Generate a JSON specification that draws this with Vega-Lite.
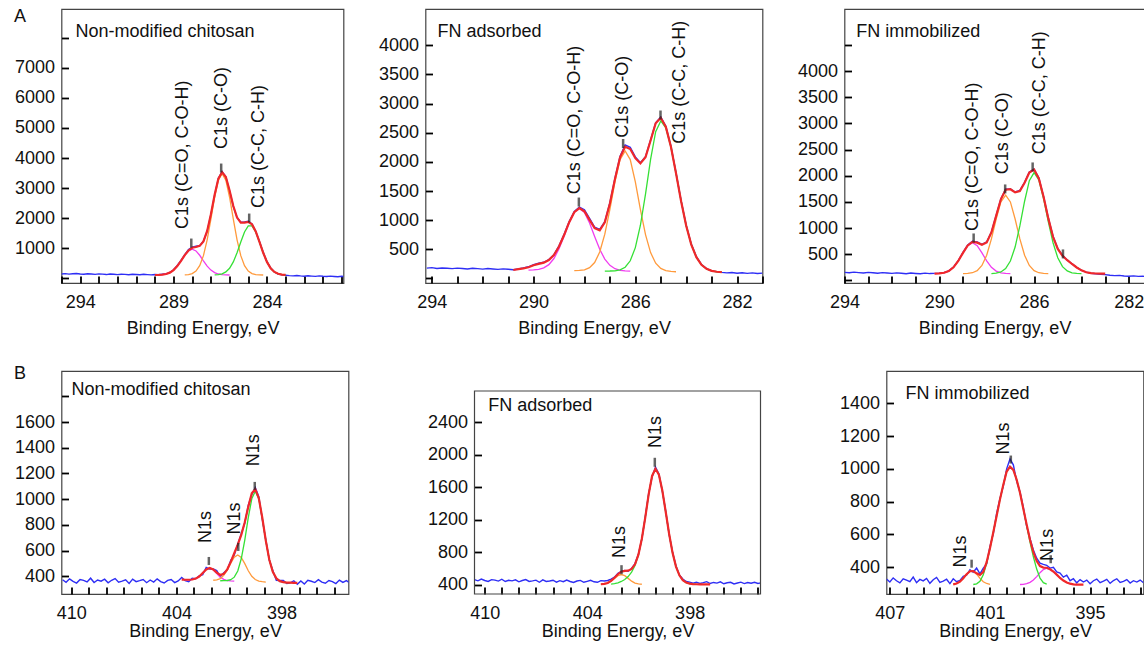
{
"$schema": "https://vega.github.io/schema/vega-lite/v6.json",
"autosize": {"type": "pad"},
"padding": {"left": 12.5, "top": 7, "right": 0, "bottom": 0},
"background": "white",
"datasets": {
"A1": [
{"x":295.0,"r":150},{"x":294.8,"r":160},{"x":294.6,"r":145},{"x":294.4,"r":155},{"x":294.2,"r":165},{"x":294.0,"r":150},{"x":293.8,"r":140},{"x":293.6,"r":158},{"x":293.4,"r":148},{"x":293.2,"r":135},{"x":293.0,"r":152},{"x":292.8,"r":145},{"x":292.6,"r":130},{"x":292.4,"r":148},{"x":292.2,"r":140},{"x":292.0,"r":128},{"x":291.8,"r":142},{"x":291.6,"r":135},{"x":291.4,"r":125},{"x":291.2,"r":140},{"x":291.0,"r":132},{"x":290.8,"r":122},{"x":290.6,"r":138},{"x":290.4,"r":128},{"x":290.2,"r":120,"g":115},
{"x":290.0,"r":130,"f":116,"a":116},{"x":289.8,"r":125,"f":119,"a":119},{"x":289.6,"r":140,"f":127,"a":127},{"x":289.4,"r":155,"f":149,"a":149},{"x":289.2,"r":200,"f":194,"a":194},{"x":289.0,"r":290,"f":279,"a":279},{"x":288.8,"r":430,"f":412,"a":412},{"x":288.6,"r":600,"f":588,"a":587},
{"x":288.4,"r":790,"f":776,"a":771,"b":120},{"x":288.2,"r":960,"f":931,"a":915,"b":131},{"x":288.0,"r":1040,"f":1019,"a":970,"b":164},{"x":287.8,"r":1070,"f":1047,"a":915,"b":247},{"x":287.6,"r":1090,"f":1083,"a":771,"b":427},{"x":287.4,"r":1240,"f":1231,"a":587,"b":759},{"x":287.2,"r":1570,"f":1580,"a":412,"b":1283},{"x":287.0,"r":2120,"f":2136,"a":279,"b":1971},
{"x":286.8,"r":2770,"f":2781,"a":194,"b":2698,"c":119},{"x":286.6,"r":3330,"f":3312,"a":149,"b":3265,"c":129},{"x":286.4,"r":3550,"f":3532,"a":127,"b":3480,"c":155},{"x":286.2,"r":3380,"f":3371,"a":119,"b":3265,"c":217},{"x":286.0,"r":2910,"f":2924,"a":116,"b":2698,"c":340},
{"x":285.8,"r":2390,"f":2406,"b":1971,"c":550},{"x":285.6,"r":2030,"f":2022,"b":1283,"c":854},{"x":285.4,"r":1870,"f":1857,"b":759,"c":1213},{"x":285.2,"r":1880,"f":1858,"b":427,"c":1546},{"x":285.0,"r":1900,"f":1880,"b":247,"c":1748},{"x":284.8,"r":1810,"f":1797,"b":164,"c":1748},{"x":284.6,"r":1570,"f":1562,"b":131,"c":1546},{"x":284.4,"r":1230,"f":1218,"b":120,"c":1213},{"x":284.2,"r":870,"f":855,"b":116,"c":854},
{"x":284.0,"r":560,"f":550,"c":550},{"x":283.8,"r":350,"f":340,"c":340},{"x":283.6,"r":215,"f":217,"c":217},{"x":283.4,"r":150,"f":155,"c":155},{"x":283.2,"r":120,"f":129,"c":129},{"x":283.0,"r":105,"f":119,"c":119},
{"x":282.8,"r":95},{"x":282.6,"r":88,"g":110},{"x":282.4,"r":100},{"x":282.2,"r":85},{"x":282.0,"r":75},{"x":281.8,"r":90},{"x":281.6,"r":80},{"x":281.4,"r":70},{"x":281.2,"r":85},{"x":281.0,"r":72},{"x":280.8,"r":65},{"x":280.6,"r":78},{"x":280.4,"r":68},{"x":280.2,"r":60},{"x":280.0,"r":72},{"x":279.9,"r":65}
],
"A2": [
{"x":294.2,"r":178},{"x":294.0,"r":185},{"x":293.8,"r":172},{"x":293.6,"r":180},{"x":293.4,"r":175},{"x":293.2,"r":168},{"x":293.0,"r":178},{"x":292.8,"r":170},{"x":292.6,"r":163},{"x":292.4,"r":175},{"x":292.2,"r":168},{"x":292.0,"r":160},{"x":291.8,"r":170},{"x":291.6,"r":162},{"x":291.4,"r":155},{"x":291.2,"r":165},{"x":291.0,"r":158},
{"x":290.8,"r":150,"f":145,"g":145},{"x":290.6,"r":162,"f":159},{"x":290.4,"r":180,"f":173},
{"x":290.2,"r":200,"f":193,"a":143},{"x":290.0,"r":235,"f":226,"a":146},{"x":289.8,"r":262,"f":251,"a":156},{"x":289.6,"r":278,"f":271,"a":181},{"x":289.4,"r":325,"f":317,"a":237},{"x":289.2,"r":408,"f":402,"a":342},{"x":289.0,"r":560,"f":548,"a":508},{"x":288.8,"r":760,"f":745,"a":725},{"x":288.6,"r":975,"f":965,"a":955},
{"x":288.4,"r":1150,"f":1136,"a":1135,"b":134},{"x":288.2,"r":1225,"f":1207,"a":1202,"b":137},{"x":288.0,"r":1180,"f":1151,"a":1133,"b":149},{"x":287.8,"r":1030,"f":1006,"a":951,"b":185},{"x":287.6,"r":880,"f":863,"a":719,"b":273},{"x":287.4,"r":840,"f":825,"a":500,"b":453},
{"x":287.2,"r":975,"f":965,"a":332,"b":759,"c":127},{"x":287.0,"r":1300,"f":1287,"a":225,"b":1186,"c":128},{"x":286.8,"r":1720,"f":1708,"a":167,"b":1660,"c":131},{"x":286.6,"r":2095,"f":2079,"a":140,"b":2040,"c":147},{"x":286.4,"r":2290,"f":2261,"a":129,"b":2187,"c":193},{"x":286.2,"r":2250,"f":2220,"a":124,"b":2039,"c":303},
{"x":286.0,"r":2085,"f":2064,"b":1657,"c":529},{"x":285.8,"r":1985,"f":1973,"b":1181,"c":913},{"x":285.6,"r":2090,"f":2080,"b":752,"c":1448},{"x":285.4,"r":2375,"f":2367,"b":444,"c":2042},{"x":285.2,"r":2670,"f":2663,"b":262,"c":2519},{"x":285.0,"r":2770,"f":2757,"b":172,"c":2702},{"x":284.8,"r":2610,"f":2600,"b":134,"c":2582},{"x":284.6,"r":2270,"f":2260,"b":120,"c":2255},{"x":284.4,"r":1815,"f":1803,"b":115,"c":1802},
{"x":284.2,"r":1335,"f":1326,"c":1326},{"x":284.0,"r":915,"f":904,"c":904},{"x":283.8,"r":590,"f":581,"c":581},{"x":283.6,"r":375,"f":364,"c":364},{"x":283.4,"r":240,"f":234,"c":234},{"x":283.2,"r":170,"f":164,"c":164},{"x":283.0,"r":130,"f":130,"c":130},{"x":282.8,"r":118,"f":115,"c":115},{"x":282.6,"r":105,"f":108,"c":108,"g":105},
{"x":282.4,"r":95},{"x":282.2,"r":102},{"x":282.0,"r":90},{"x":281.8,"r":98},{"x":281.6,"r":88},{"x":281.4,"r":95},{"x":281.2,"r":85},{"x":281.0,"r":92}
],
"A3": [
{"x":294.0,"r":155},{"x":293.8,"r":148},{"x":293.6,"r":160},{"x":293.4,"r":150},{"x":293.2,"r":142},{"x":293.0,"r":155},{"x":292.8,"r":148},{"x":292.6,"r":138},{"x":292.4,"r":150},{"x":292.2,"r":142},{"x":292.0,"r":135},{"x":291.8,"r":146},{"x":291.6,"r":138},{"x":291.4,"r":130},{"x":291.2,"r":142},{"x":291.0,"r":134},{"x":290.8,"r":128},{"x":290.6,"r":140},{"x":290.4,"r":132},
{"x":290.2,"r":136,"f":131,"a":131,"g":130},{"x":290.0,"r":140,"f":135,"a":135},{"x":289.8,"r":150,"f":147,"a":147},{"x":289.6,"r":185,"f":180,"a":180},{"x":289.4,"r":255,"f":251,"a":251},{"x":289.2,"r":380,"f":373,"a":373},
{"x":289.0,"r":535,"f":528,"a":527,"b":131},{"x":288.8,"r":680,"f":670,"a":665,"b":135},{"x":288.6,"r":750,"f":738,"a":720,"b":148},{"x":288.4,"r":735,"f":723,"a":665,"b":188},{"x":288.2,"r":690,"f":683,"a":527,"b":286},{"x":288.0,"r":735,"f":725,"a":373,"b":482},
{"x":287.8,"r":925,"f":917,"a":251,"b":794,"c":132},{"x":287.6,"r":1240,"f":1233,"a":180,"b":1174,"c":139},{"x":287.4,"r":1560,"f":1550,"a":147,"b":1500,"c":163},{"x":287.2,"r":1745,"f":1732,"a":135,"b":1630,"c":227},{"x":287.0,"r":1750,"f":1742,"a":131,"b":1500,"c":371},
{"x":286.8,"r":1690,"f":1683,"b":1174,"c":639},{"x":286.6,"r":1720,"f":1706,"b":794,"c":1042},{"x":286.4,"r":1875,"f":1865,"b":482,"c":1513},{"x":286.2,"r":2070,"f":2062,"b":286,"c":1906},{"x":286.0,"r":2125,"f":2119,"b":188,"c":2060},{"x":285.8,"r":1960,"f":1950,"b":148,"c":1922},{"x":285.6,"r":1605,"f":1599,"b":135,"c":1566},{"x":285.4,"r":1195,"f":1186,"b":131,"c":1122},
{"x":285.2,"r":845,"f":834,"c":721},{"x":285.0,"r":610,"f":602,"c":434},{"x":284.8,"r":480,"f":470,"c":265},{"x":284.6,"r":392,"f":387,"c":182},{"x":284.4,"r":318,"f":315,"c":147},{"x":284.2,"r":250,"f":248,"c":135},{"x":284.0,"r":192,"f":194,"c":131},
{"x":283.8,"r":160,"f":158},{"x":283.6,"r":138,"f":140},{"x":283.4,"r":128,"f":133},{"x":283.2,"r":120,"f":131},{"x":283.0,"r":112,"f":130},{"x":282.8,"r":100,"g":130},
{"x":282.6,"r":92},{"x":282.4,"r":98},{"x":282.2,"r":85},{"x":282.0,"r":80},{"x":281.8,"r":88},{"x":281.6,"r":78},{"x":281.4,"r":82},{"x":281.3,"r":75}
],
"B1": [
{"x":410.5,"r":373},{"x":410.3,"r":353},{"x":410.1,"r":380},{"x":409.9,"r":360},{"x":409.7,"r":347},{"x":409.5,"r":375},{"x":409.3,"r":368},{"x":409.1,"r":356},{"x":408.9,"r":385},{"x":408.7,"r":351},{"x":408.5,"r":371},{"x":408.3,"r":362},{"x":408.1,"r":377},{"x":407.9,"r":349},{"x":407.7,"r":369},{"x":407.5,"r":382},{"x":407.3,"r":354},{"x":407.1,"r":362},{"x":406.9,"r":373},{"x":406.7,"r":344},{"x":406.5,"r":378},{"x":406.3,"r":358},{"x":406.1,"r":366},{"x":405.9,"r":375},{"x":405.7,"r":350},{"x":405.5,"r":371},{"x":405.3,"r":355},{"x":405.1,"r":380},{"x":404.9,"r":359},{"x":404.7,"r":348},{"x":404.5,"r":368},{"x":404.3,"r":375},{"x":404.1,"r":351},{"x":403.9,"r":364},
{"x":403.7,"r":390,"f":374,"g":374},{"x":403.5,"r":366,"f":373,"a":373},{"x":403.3,"r":358,"f":373,"a":373},{"x":403.1,"r":385,"f":375,"a":375},{"x":402.9,"r":381,"f":382,"a":382},{"x":402.7,"r":404,"f":398,"a":398},{"x":402.5,"r":413,"f":425,"a":425},{"x":402.3,"r":468,"f":453,"a":453},{"x":402.1,"r":456,"f":465,"a":465},
{"x":401.9,"r":456,"f":453,"a":451,"b":369},{"x":401.7,"r":445,"f":428,"a":422,"b":372},{"x":401.5,"r":396,"f":410,"a":393,"b":382,"c":365},{"x":401.3,"r":427,"f":419,"a":376,"b":407,"c":366},{"x":401.1,"r":449,"f":454,"a":367,"b":448,"c":367},{"x":400.9,"r":524,"f":512,"a":364,"b":501,"c":373},{"x":400.7,"r":565,"f":579,"a":362,"b":548,"c":393},
{"x":400.5,"r":650,"f":646,"b":566,"c":441},{"x":400.3,"r":731,"f":722,"b":547,"c":536},{"x":400.1,"r":814,"f":820,"b":498,"c":682},{"x":399.9,"r":954,"f":940,"b":443,"c":856},{"x":399.7,"r":1035,"f":1045,"b":400,"c":1003},{"x":399.5,"r":1090,"f":1078,"b":375,"c":1061},{"x":399.3,"r":1020,"f":1008,"b":363,"c":1002},{"x":399.1,"r":842,"f":855,"b":358,"c":853},{"x":398.9,"r":684,"f":677,"b":355,"c":677},
{"x":398.7,"r":526,"f":529,"c":529},{"x":398.5,"r":445,"f":434,"c":434},{"x":398.3,"r":368,"f":384,"c":384},{"x":398.1,"r":367,"f":362,"c":362},{"x":397.9,"r":367,"f":354,"c":354},{"x":397.7,"r":343,"f":351,"c":351},{"x":397.5,"r":349,"f":350,"c":350},{"x":397.3,"r":365,"f":349},{"x":397.1,"r":337,"f":348,"g":348},
{"x":396.9,"r":364},{"x":396.7,"r":340},{"x":396.5,"r":368},{"x":396.3,"r":361},{"x":396.1,"r":351},{"x":395.9,"r":373},{"x":395.7,"r":354},{"x":395.5,"r":346},{"x":395.3,"r":367},{"x":395.1,"r":359},{"x":394.9,"r":343},{"x":394.7,"r":370},{"x":394.5,"r":352},{"x":394.3,"r":366},{"x":394.1,"r":348}
],
"B2": [
{"x":410.6,"r":463},{"x":410.4,"r":448},{"x":410.2,"r":470},{"x":410.0,"r":452},{"x":409.8,"r":440},{"x":409.6,"r":462},{"x":409.4,"r":456},{"x":409.2,"r":445},{"x":409.0,"r":468},{"x":408.8,"r":440},{"x":408.6,"r":455},{"x":408.4,"r":448},{"x":408.2,"r":460},{"x":408.0,"r":436},{"x":407.8,"r":452},{"x":407.6,"r":464},{"x":407.4,"r":440},{"x":407.2,"r":447},{"x":407.0,"r":456},{"x":406.8,"r":430},{"x":406.6,"r":459},{"x":406.4,"r":440},{"x":406.2,"r":446},{"x":406.0,"r":455},{"x":405.8,"r":432},{"x":405.6,"r":450},{"x":405.4,"r":437},{"x":405.2,"r":458},{"x":405.0,"r":440},{"x":404.8,"r":428},{"x":404.6,"r":446},{"x":404.4,"r":453},{"x":404.2,"r":430},{"x":404.0,"r":442},{"x":403.8,"r":455},{"x":403.6,"r":436},{"x":403.4,"r":430},
{"x":403.2,"r":450,"f":406,"b":406,"g":405},{"x":403.0,"r":446,"f":410,"b":410},{"x":402.8,"r":452,"f":422,"b":421},{"x":402.6,"r":470,"f":447,"b":444,"c":408},{"x":402.4,"r":492,"f":486,"b":478,"c":413},{"x":402.2,"r":540,"f":529,"b":511,"c":423},{"x":402.0,"r":565,"f":560,"b":525,"c":440},{"x":401.8,"r":575,"f":571,"b":511,"c":465},{"x":401.6,"r":566,"f":573,"b":478,"c":500},{"x":401.4,"r":600,"f":594,"b":444,"c":555},{"x":401.2,"r":660,"f":651,"b":421,"c":635},{"x":401.0,"r":775,"f":770,"b":410,"c":765},{"x":400.8,"r":960,"f":966,"b":406,"c":965},
{"x":400.6,"r":1235,"f":1225,"c":1225},{"x":400.4,"r":1520,"f":1510,"c":1510},{"x":400.2,"r":1725,"f":1737,"c":1737},{"x":400.0,"r":1845,"f":1825,"c":1825},{"x":399.8,"r":1760,"f":1753,"c":1753},{"x":399.6,"r":1550,"f":1558,"c":1558},{"x":399.4,"r":1305,"f":1294,"c":1294},{"x":399.2,"r":1015,"f":1023,"c":1023},{"x":399.0,"r":800,"f":792,"c":792},{"x":398.8,"r":630,"f":623,"c":623},{"x":398.6,"r":520,"f":516,"c":516},{"x":398.4,"r":470,"f":456,"c":456},{"x":398.2,"r":440,"f":426,"c":426},{"x":398.0,"r":432,"f":413,"c":413},{"x":397.8,"r":420,"f":408,"c":408},{"x":397.6,"r":432,"f":406,"c":406},
{"x":397.4,"r":416,"f":405},{"x":397.2,"r":425,"f":405},{"x":397.0,"r":438,"f":405},{"x":396.8,"r":415,"f":405,"g":405},
{"x":396.6,"r":428},{"x":396.4,"r":420},{"x":396.2,"r":435},{"x":396.0,"r":412},{"x":395.8,"r":424},{"x":395.6,"r":430},{"x":395.4,"r":410},{"x":395.2,"r":421},{"x":395.0,"r":432},{"x":394.8,"r":414},{"x":394.6,"r":427},{"x":394.4,"r":418},{"x":394.2,"r":430},{"x":394.0,"r":416},{"x":393.8,"r":424}
],
"B3": [
{"x":407.2,"r":328},{"x":407.0,"r":310},{"x":406.8,"r":335},{"x":406.6,"r":318},{"x":406.4,"r":305},{"x":406.2,"r":330},{"x":406.0,"r":322},{"x":405.8,"r":312},{"x":405.6,"r":340},{"x":405.4,"r":306},{"x":405.2,"r":326},{"x":405.0,"r":317},{"x":404.8,"r":332},{"x":404.6,"r":302},{"x":404.4,"r":324},{"x":404.2,"r":338},{"x":404.0,"r":308},{"x":403.8,"r":316},{"x":403.6,"r":327},{"x":403.4,"r":300},
{"x":403.2,"r":330,"f":296,"b":296,"g":294},{"x":403.0,"r":312,"f":301,"b":301},{"x":402.8,"r":320,"f":312,"b":312},{"x":402.6,"r":345,"f":333,"b":333},{"x":402.4,"r":352,"f":358,"b":358},{"x":402.2,"r":385,"f":376,"b":376},
{"x":402.0,"r":370,"f":377,"b":376,"c":295},{"x":401.8,"r":395,"f":363,"b":358,"c":299},{"x":401.6,"r":360,"f":353,"b":333,"c":314},{"x":401.4,"r":395,"f":372,"b":312,"c":354},{"x":401.2,"r":420,"f":431,"b":301,"c":424},{"x":401.0,"r":528,"f":516,"b":296,"c":514},
{"x":400.8,"r":605,"f":614,"c":614},{"x":400.6,"r":728,"f":714,"c":714},{"x":400.4,"r":820,"f":814,"c":814},{"x":400.2,"r":895,"f":904,"c":904},{"x":400.0,"r":1000,"f":984,"c":984},{"x":399.8,"r":1060,"f":1014,"c":1014},{"x":399.6,"r":1025,"f":994,"c":994},{"x":399.4,"r":925,"f":934,"c":934},
{"x":399.2,"r":860,"f":854,"c":854,"a":295},{"x":399.0,"r":765,"f":756,"c":754,"a":296},{"x":398.8,"r":650,"f":660,"c":654,"a":300},{"x":398.6,"r":575,"f":568,"c":554,"a":308},{"x":398.4,"r":505,"f":492,"c":464,"a":322},{"x":398.2,"r":455,"f":438,"c":389,"a":343},{"x":398.0,"r":425,"f":407,"c":334,"a":367},{"x":397.8,"r":418,"f":398,"c":306,"a":386},{"x":397.6,"r":412,"f":397,"c":297,"a":394},
{"x":397.4,"r":395,"f":388,"a":388},{"x":397.2,"r":400,"f":374,"a":374},{"x":397.0,"r":372,"f":355,"a":355},{"x":396.8,"r":365,"f":335,"a":335},{"x":396.6,"r":340,"f":319,"a":319},{"x":396.4,"r":352,"f":307,"a":307},{"x":396.2,"r":318,"f":300,"a":300},{"x":396.0,"r":330,"f":296,"a":296},{"x":395.8,"r":305,"f":294,"a":294},{"x":395.6,"r":325,"f":294},{"x":395.4,"r":310,"f":294,"g":294},
{"x":395.2,"r":322},{"x":395.0,"r":300},{"x":394.8,"r":318},{"x":394.6,"r":328},{"x":394.4,"r":306},{"x":394.2,"r":315},{"x":394.0,"r":326},{"x":393.8,"r":302},{"x":393.6,"r":319},{"x":393.4,"r":330},{"x":393.2,"r":308},{"x":393.0,"r":314},{"x":392.8,"r":325},{"x":392.6,"r":304},{"x":392.4,"r":318},{"x":392.2,"r":310},{"x":392.0,"r":322},{"x":391.8,"r":306}
]
},
"spacing": 26,
"vconcat": [
{"hconcat": [
{"width": 282, "height": 274, "data": {"name": "A1"},
 "encoding": {
  "x": {"field": "x", "type": "quantitative", "scale": {"domain": [279.9, 295], "reverse": true, "nice": false, "zero": false},
   "axis": {"values": [280,281,282,283,284,285,286,287,288,289,290,291,292,293,294,295], "format": "d", "labelExpr": "datum.value % 5 == 4 ? datum.label : ''", "labelOverlap": false, "title": "Binding Energy, eV", "titlePadding": 8}},
  "y": {"field": "v", "type": "quantitative", "scale": {"domain": [-150, 8950], "nice": false, "zero": false},
   "axis": {"values": [0,1000,2000,3000,4000,5000,6000,7000,8000], "format": "d", "labelOverlap": false, "labelExpr": "datum.value >= 1000 && datum.value <= 7000 ? datum.label : ''", "title": null}}},
 "layer": [
  {"transform": [{"fold": ["r"], "as": ["k","v"]}], "mark": {"type": "line", "color": "#2e2ef5", "strokeWidth": 1.4, "clip": true}},
  {"transform": [{"fold": ["a","b","c"], "as": ["k","v"]}], "mark": {"type": "line", "strokeWidth": 1.3},
   "encoding": {"color": {"field": "k", "type": "nominal", "scale": {"domain": ["a","b","c"], "range": ["#f03cf0","#ff9a3c","#35e035"]}, "legend": null}}},
  {"transform": [{"fold": ["g"], "as": ["k","v"]}], "mark": {"type": "line", "color": "#7b3b2c", "strokeWidth": 2}},
  {"transform": [{"fold": ["f"], "as": ["k","v"]}], "mark": {"type": "line", "color": "#f0282a", "strokeWidth": 2.2}},
  {"data": {"values": [{"x":288.05,"v":1177},{"x":286.45,"v":3668},{"x":284.95,"v":2007}]},
   "mark": {"type": "tick", "orient": "vertical", "size": 9, "thickness": 2.5, "color": "#222"}},
  {"data": {"values": [{"x":288.5,"v":1642,"t":"C1s (C=O, C-O-H)"},{"x":286.43,"v":4299,"t":"C1s (C-O)"},{"x":284.4,"v":2339,"t":"C1s (C-C, C-H)"}]},
   "mark": {"type": "text", "angle": 270, "align": "left", "baseline": "middle", "fontSize": 18, "color": "#111"}, "encoding": {"text": {"field": "t"}}},
  {"data": {"values": [{"x":294.25,"v":8020,"t":"Non-modified chitosan"},{"x":297.54,"v":8518,"t":"A"}]},
   "mark": {"type": "text", "align": "left", "baseline": "alphabetic", "fontSize": 18, "color": "#111"}, "encoding": {"text": {"field": "t"}}}
 ]},
{"width": 337, "height": 274, "data": {"name": "A2"},
 "encoding": {
  "x": {"field": "x", "type": "quantitative", "scale": {"domain": [281, 294.25], "reverse": true, "nice": false, "zero": false},
   "axis": {"values": [281,282,283,284,285,286,287,288,289,290,291,292,293,294], "format": "d", "labelExpr": "datum.value % 4 == 2 ? datum.label : ''", "labelOverlap": false, "title": "Binding Energy, eV", "titlePadding": 8}},
  "y": {"field": "v", "type": "quantitative", "scale": {"domain": [-78, 4623], "nice": false, "zero": false},
   "axis": {"values": [0,500,1000,1500,2000,2500,3000,3500,4000], "format": "d", "labelOverlap": false, "labelExpr": "datum.value >= 500 ? datum.label : ''", "title": null}}},
 "layer": [
  {"transform": [{"fold": ["r"], "as": ["k","v"]}], "mark": {"type": "line", "color": "#2e2ef5", "strokeWidth": 1.4, "clip": true}},
  {"transform": [{"fold": ["a","b","c"], "as": ["k","v"]}], "mark": {"type": "line", "strokeWidth": 1.3},
   "encoding": {"color": {"field": "k", "type": "nominal", "scale": {"domain": ["a","b","c"], "range": ["#f03cf0","#ff9a3c","#35e035"]}, "legend": null}}},
  {"transform": [{"fold": ["g"], "as": ["k","v"]}], "mark": {"type": "line", "color": "#7b3b2c", "strokeWidth": 2}},
  {"transform": [{"fold": ["f"], "as": ["k","v"]}], "mark": {"type": "line", "color": "#f0282a", "strokeWidth": 2.2}},
  {"data": {"values": [{"x":288.22,"v":1311},{"x":286.48,"v":2315},{"x":285.01,"v":2804}]},
   "mark": {"type": "tick", "orient": "vertical", "size": 9, "thickness": 2.5, "color": "#222"}},
  {"data": {"values": [{"x":288.39,"v":1443,"t":"C1s (C=O, C-O-H)"},{"x":286.5,"v":2415,"t":"C1s (C-O)"},{"x":284.26,"v":2312,"t":"C1s (C-C, C-H)"}]},
   "mark": {"type": "text", "angle": 270, "align": "left", "baseline": "middle", "fontSize": 18, "color": "#111"}, "encoding": {"text": {"field": "t"}}},
  {"data": {"values": [{"x":293.78,"v":4142,"t":"FN adsorbed"}]},
   "mark": {"type": "text", "align": "left", "baseline": "alphabetic", "fontSize": 18, "color": "#111"}, "encoding": {"text": {"field": "t"}}}
 ]},
{"width": 300, "height": 274, "data": {"name": "A3"},
 "encoding": {
  "x": {"field": "x", "type": "quantitative", "scale": {"domain": [281.34, 294], "reverse": true, "nice": false, "zero": false},
   "axis": {"values": [282,283,284,285,286,287,288,289,290,291,292,293,294], "format": "d", "labelExpr": "datum.value % 4 == 2 ? datum.label : ''", "labelOverlap": false, "title": "Binding Energy, eV", "titlePadding": 8}},
  "y": {"field": "v", "type": "quantitative", "scale": {"domain": [-48, 5184], "nice": false, "zero": false},
   "axis": {"values": [0,500,1000,1500,2000,2500,3000,3500,4000,4500], "format": "d", "labelOverlap": false, "labelExpr": "datum.value >= 500 && datum.value <= 4000 ? datum.label : ''", "title": null}}},
 "layer": [
  {"transform": [{"fold": ["r"], "as": ["k","v"]}], "mark": {"type": "line", "color": "#2e2ef5", "strokeWidth": 1.4, "clip": true}},
  {"transform": [{"fold": ["a","b","c"], "as": ["k","v"]}], "mark": {"type": "line", "strokeWidth": 1.3},
   "encoding": {"color": {"field": "k", "type": "nominal", "scale": {"domain": ["a","b","c"], "range": ["#f03cf0","#ff9a3c","#35e035"]}, "legend": null}}},
  {"transform": [{"fold": ["g"], "as": ["k","v"]}], "mark": {"type": "line", "color": "#7b3b2c", "strokeWidth": 2}},
  {"transform": [{"fold": ["f"], "as": ["k","v"]}], "mark": {"type": "line", "color": "#f0282a", "strokeWidth": 2.2}},
  {"data": {"values": [{"x":288.55,"v":812},{"x":287.22,"v":1748},{"x":286.06,"v":2168},{"x":284.78,"v":507}]},
   "mark": {"type": "tick", "orient": "vertical", "size": 9, "thickness": 2.5, "color": "#222"}},
  {"data": {"values": [{"x":288.56,"v":946,"t":"C1s (C=O, C-O-H)"},{"x":287.31,"v":2028,"t":"C1s (C-O)"},{"x":285.74,"v":2410,"t":"C1s (C-C, C-H)"}]},
   "mark": {"type": "text", "angle": 270, "align": "left", "baseline": "middle", "fontSize": 18, "color": "#111"}, "encoding": {"text": {"field": "t"}}},
  {"data": {"values": [{"x":293.5,"v":4649,"t":"FN immobilized"}]},
   "mark": {"type": "text", "align": "left", "baseline": "alphabetic", "fontSize": 18, "color": "#111"}, "encoding": {"text": {"field": "t"}}}
 ]}
], "spacing": 82, "bounds": "flush"},
{"hconcat": [
{"width": 287, "height": 223, "data": {"name": "B1"},
 "encoding": {
  "x": {"field": "x", "type": "quantitative", "scale": {"domain": [394.18, 410.56], "reverse": true, "nice": false, "zero": false},
   "axis": {"values": [395,396,397,398,399,400,401,402,403,404,405,406,407,408,409,410], "format": "d", "labelExpr": "datum.value % 6 == 2 ? datum.label : ''", "labelOverlap": false, "title": "Binding Energy, eV", "titlePadding": 0}},
  "y": {"field": "v", "type": "quantitative", "scale": {"domain": [262, 1997], "nice": false, "zero": false},
   "axis": {"values": [400,600,800,1000,1200,1400,1600,1800], "format": "d", "labelOverlap": false, "labelExpr": "datum.value <= 1600 ? datum.label : ''", "title": null}}},
 "layer": [
  {"transform": [{"fold": ["r"], "as": ["k","v"]}], "mark": {"type": "line", "color": "#2e2ef5", "strokeWidth": 1.4, "clip": true}},
  {"transform": [{"fold": ["a","b","c"], "as": ["k","v"]}], "mark": {"type": "line", "strokeWidth": 1.3},
   "encoding": {"color": {"field": "k", "type": "nominal", "scale": {"domain": ["a","b","c"], "range": ["#f03cf0","#ff9a3c","#35e035"]}, "legend": null}}},
  {"transform": [{"fold": ["g"], "as": ["k","v"]}], "mark": {"type": "line", "color": "#7b3b2c", "strokeWidth": 2}},
  {"transform": [{"fold": ["f"], "as": ["k","v"]}], "mark": {"type": "line", "color": "#f0282a", "strokeWidth": 2.2}},
  {"data": {"values": [{"x":402.15,"v":519},{"x":400.47,"v":628},{"x":399.53,"v":1103}]},
   "mark": {"type": "tick", "orient": "vertical", "size": 8, "thickness": 2.5, "color": "#222"}},
  {"data": {"values": [{"x":402.31,"v":659,"t":"N1s"},{"x":400.65,"v":724,"t":"N1s"},{"x":399.56,"v":1256,"t":"N1s"}]},
   "mark": {"type": "text", "angle": 270, "align": "left", "baseline": "middle", "fontSize": 18, "color": "#111"}, "encoding": {"text": {"field": "t"}}},
  {"data": {"values": [{"x":409.99,"v":1813,"t":"Non-modified chitosan"},{"x":413.27,"v":1935,"t":"B"}]},
   "mark": {"type": "text", "align": "left", "baseline": "alphabetic", "fontSize": 18, "color": "#111"}, "encoding": {"text": {"field": "t"}}}
 ]},
{"width": 286, "height": 223, "data": {"name": "B2"}, "view": {"stroke": null},
 "encoding": {
  "x": {"field": "x", "type": "quantitative", "scale": {"domain": [393.85, 410.6], "reverse": true, "nice": false, "zero": false},
   "axis": {"values": [394,395,396,397,398,399,400,401,402,403,404,405,406,407,408,409,410], "format": "d", "labelExpr": "datum.value % 6 == 2 ? datum.label : ''", "labelOverlap": false, "title": "Binding Energy, eV", "titlePadding": 0}},
  "y": {"field": "v", "type": "quantitative", "scale": {"domain": [286, 3027], "nice": false, "zero": false},
   "axis": {"values": [400,800,1200,1600,2000,2400], "format": "d", "labelOverlap": false, "title": null}}},
 "layer": [
  {"transform": [{"fold": ["r"], "as": ["k","v"]}], "mark": {"type": "line", "color": "#2e2ef5", "strokeWidth": 1.4, "clip": true}},
  {"transform": [{"fold": ["a","b","c"], "as": ["k","v"]}], "mark": {"type": "line", "strokeWidth": 1.3},
   "encoding": {"color": {"field": "k", "type": "nominal", "scale": {"domain": ["a","b","c"], "range": ["#f03cf0","#ff9a3c","#35e035"]}, "legend": null}}},
  {"transform": [{"fold": ["g"], "as": ["k","v"]}], "mark": {"type": "line", "color": "#7b3b2c", "strokeWidth": 2}},
  {"transform": [{"fold": ["f"], "as": ["k","v"]}], "mark": {"type": "line", "color": "#f0282a", "strokeWidth": 2.2}},
  {"data": {"values": [{"x":401.99,"v":585},{"x":400.04,"v":1905}]},
   "mark": {"type": "tick", "orient": "vertical", "size": 9, "thickness": 2.5, "color": "#222"}},
  {"data": {"values": [{"x":402.06,"v":729,"t":"N1s"},{"x":399.97,"v":2081,"t":"N1s"}]},
   "mark": {"type": "text", "angle": 270, "align": "left", "baseline": "middle", "fontSize": 18, "color": "#111"}, "encoding": {"text": {"field": "t"}}},
  {"data": {"values": [{"x":409.8,"v":2532,"t":"FN adsorbed"}]},
   "mark": {"type": "text", "align": "left", "baseline": "alphabetic", "fontSize": 18, "color": "#111"}, "encoding": {"text": {"field": "t"}}},
  {"data": {"values": [{"x0":410.6,"x1":393.85,"y0":286,"y1":2781}]},
   "mark": {"type": "rect", "filled": false, "color": "#444", "strokeWidth": 1.2},
   "encoding": {"x": {"field": "x0", "type": "quantitative"}, "x2": {"field": "x1"}, "y": {"field": "y0", "type": "quantitative"}, "y2": {"field": "y1"}}}
 ]},
{"width": 257, "height": 223, "data": {"name": "B3"},
 "encoding": {
  "x": {"field": "x", "type": "quantitative", "scale": {"domain": [391.8, 407.2], "reverse": true, "nice": false, "zero": false},
   "axis": {"values": [392,393,394,395,396,397,398,399,400,401,402,403,404,405,406,407], "format": "d", "labelExpr": "datum.value % 6 == 5 ? datum.label : ''", "labelOverlap": false, "title": "Binding Energy, eV", "titlePadding": 0}},
  "y": {"field": "v", "type": "quantitative", "scale": {"domain": [237, 1597], "nice": false, "zero": false},
   "axis": {"values": [400,600,800,1000,1200,1400], "format": "d", "labelOverlap": false, "title": null}}},
 "layer": [
  {"transform": [{"fold": ["r"], "as": ["k","v"]}], "mark": {"type": "line", "color": "#2e2ef5", "strokeWidth": 1.4, "clip": true}},
  {"transform": [{"fold": ["a","b","c"], "as": ["k","v"]}], "mark": {"type": "line", "strokeWidth": 1.3},
   "encoding": {"color": {"field": "k", "type": "nominal", "scale": {"domain": ["a","b","c"], "range": ["#f03cf0","#ff9a3c","#35e035"]}, "legend": null}}},
  {"transform": [{"fold": ["g"], "as": ["k","v"]}], "mark": {"type": "line", "color": "#7b3b2c", "strokeWidth": 2}},
  {"transform": [{"fold": ["f"], "as": ["k","v"]}], "mark": {"type": "line", "color": "#f0282a", "strokeWidth": 2.2}},
  {"data": {"values": [{"x":402.1,"v":422},{"x":399.75,"v":1057},{"x":397.36,"v":449}]},
   "mark": {"type": "tick", "orient": "vertical", "size": 8, "thickness": 2.5, "color": "#222"}},
  {"data": {"values": [{"x":402.75,"v":398,"t":"N1s"},{"x":400.15,"v":1088,"t":"N1s"},{"x":397.51,"v":439,"t":"N1s"}]},
   "mark": {"type": "text", "angle": 270, "align": "left", "baseline": "middle", "fontSize": 18, "color": "#111"}, "encoding": {"text": {"field": "t"}}},
  {"data": {"values": [{"x":406.06,"v":1428,"t":"FN immobilized"}]},
   "mark": {"type": "text", "align": "left", "baseline": "alphabetic", "fontSize": 18, "color": "#111"}, "encoding": {"text": {"field": "t"}}}
 ]}
], "spacing": 126, "bounds": "flush"}
],
"config": {
 "font": "Liberation Sans",
 "view": {"stroke": "#444", "strokeWidth": 1.2},
 "axis": {"domain": false, "grid": false, "ticks": true, "tickColor": "#000", "tickOpacity": 1, "tickWidth": 1.8, "tickSize": 7, "offset": -7, "zindex": 1, "labelFont": "Liberation Sans", "labelFontSize": 18, "labelColor": "#111", "titleFont": "Liberation Sans", "titleFontSize": 18, "titleFontWeight": "normal", "titleColor": "#111", "labelFlush": false, "labelOverlap": false},
 "axisX": {"labelPadding": 10},
 "axisY": {"labelPadding": 7},
 "text": {"font": "Liberation Sans"}
}
}
